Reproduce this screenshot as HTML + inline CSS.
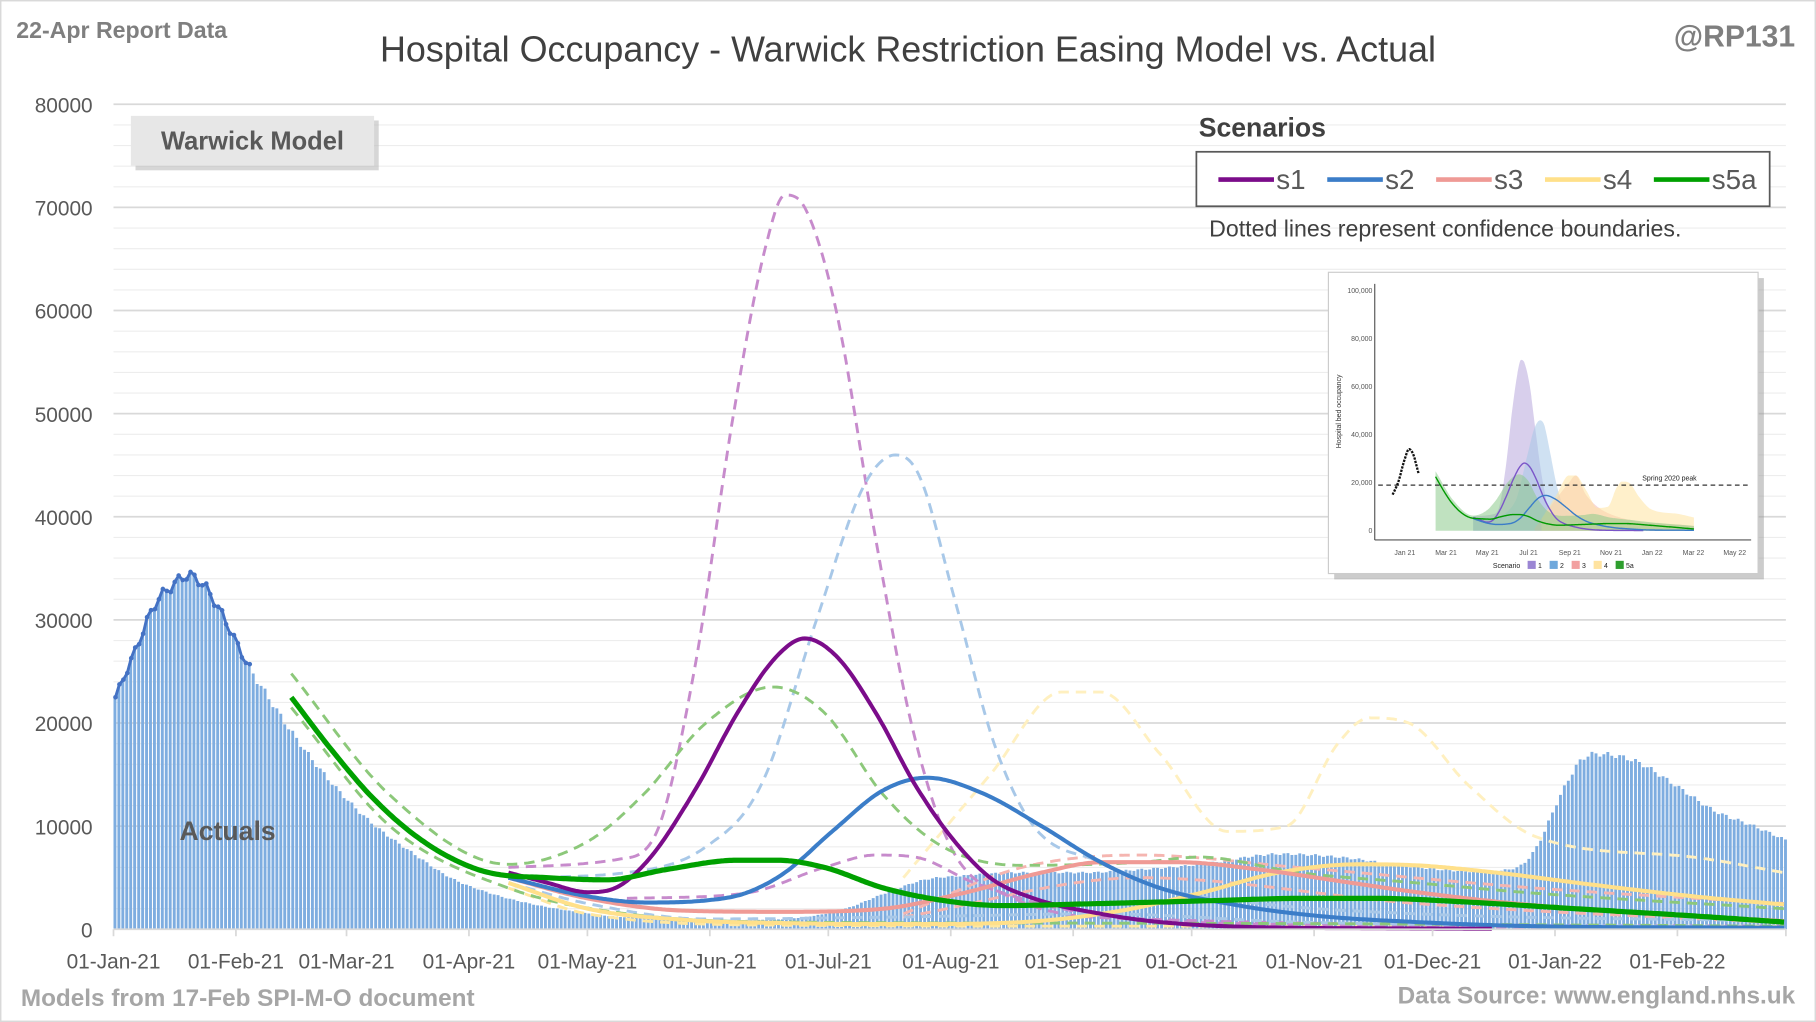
<!DOCTYPE html>
<html><head><meta charset="utf-8"><style>
html,body{margin:0;padding:0;background:#fff;}
svg{display:block;font-family:"Liberation Sans",sans-serif;}
</style></head><body>
<svg id="s" width="1816" height="1022" viewBox="0 0 1568 882" preserveAspectRatio="none" xmlns="http://www.w3.org/2000/svg">
<rect x="0.5" y="0.5" width="1567" height="881" fill="#fff" stroke="#D9D9D9" stroke-width="1.5"/>
<g id="grid"></g>
<g id="bars"></g>
<g id="lines"></g>
<g id="axis"></g>
<text x="14" y="33" font-size="20" font-weight="bold" fill="#7F7F7F">22-Apr Report Data</text>
<text x="784" y="53" font-size="31" fill="#404040" text-anchor="middle">Hospital Occupancy - Warwick Restriction Easing Model vs. Actual</text>
<text x="1550" y="40" font-size="26" font-weight="bold" fill="#7F7F7F" text-anchor="end">@RP131</text>
<text x="18" y="868" font-size="21" font-weight="bold" fill="#A6A6A6">Models from 17-Feb SPI-M-O document</text>
<text x="1550" y="866" font-size="21" font-weight="bold" fill="#A6A6A6" text-anchor="end">Data Source: www.england.nhs.uk</text>
<rect x="117" y="104" width="210" height="43" fill="#bbb" opacity="0.6"/>
<rect x="113" y="100" width="210" height="43" fill="#E7E7E7"/>
<text x="218" y="129" font-size="22" font-weight="bold" fill="#595959" text-anchor="middle">Warwick Model</text>
<text x="155" y="725" font-size="23" font-weight="bold" fill="#595959">Actuals</text>
<text x="1035" y="118" font-size="23" font-weight="bold" fill="#404040">Scenarios</text>
<rect x="1033" y="131" width="495" height="47" fill="#fff" stroke="#595959" stroke-width="1.5"/>
<g font-size="24" fill="#595959">
<line x1="1052" y1="155" x2="1100" y2="155" stroke="#7B0C8A" stroke-width="4"/><text x="1102" y="163">s1</text>
<line x1="1146" y1="155" x2="1194" y2="155" stroke="#3B7DC8" stroke-width="4"/><text x="1196" y="163">s2</text>
<line x1="1240" y1="155" x2="1288" y2="155" stroke="#EF9A95" stroke-width="4"/><text x="1290" y="163">s3</text>
<line x1="1334" y1="155" x2="1382" y2="155" stroke="#FFE08A" stroke-width="4"/><text x="1384" y="163">s4</text>
<line x1="1428" y1="155" x2="1476" y2="155" stroke="#00A000" stroke-width="4"/><text x="1478" y="163">s5a</text>
</g>
<text x="1044" y="204" font-size="20" fill="#404040">Dotted lines represent confidence boundaries.</text>
<rect x="1152" y="240" width="371" height="260" fill="#999" opacity="0.5"/>
<rect x="1147" y="235" width="371" height="260" fill="#fff" stroke="#ccc"/>
<g id="inset"></g>
</svg>
<script>
const NS="http://www.w3.org/2000/svg";
function el(p,t,a,txt){const e=document.createElementNS(NS,t);for(const k in a)e.setAttribute(k,a[k]);if(txt!==undefined)e.textContent=txt;document.getElementById(p).appendChild(e);return e;}
const X0=98,PX=3.41,Y0=802,PY=(802-90)/80000;
const X=d=>X0+d*PX, Y=v=>Y0-v*PY;
for(let v=2000;v<=80000;v+=2000){const maj=v%10000==0;el("grid","line",{x1:98,x2:1542,y1:Y(v),y2:Y(v),stroke:maj?"#D9D9D9":"#EDEDED","stroke-width":maj?1.5:1});}
for(let v=0;v<=80000;v+=10000)el("axis","text",{x:80,y:Y(v)+7,"font-size":18,fill:"#595959","text-anchor":"end"},String(v));
el("axis","line",{x1:98,x2:1542,y1:802,y2:802,stroke:"#D9D9D9","stroke-width":1.5});
const months=[0,31,59,90,120,151,181,212,243,273,304,334,365,396];
const labs=["01-Jan-21","01-Feb-21","01-Mar-21","01-Apr-21","01-May-21","01-Jun-21","01-Jul-21","01-Aug-21","01-Sep-21","01-Oct-21","01-Nov-21","01-Dec-21","01-Jan-22","01-Feb-22"];
months.forEach((d,i)=>{el("axis","line",{x1:X(d),x2:X(d),y1:802,y2:808,stroke:"#D9D9D9","stroke-width":1.5});el("axis","text",{x:X(d),y:836,"font-size":18,fill:"#595959","text-anchor":"middle"},labs[i]);});
el("axis","line",{x1:1542,x2:1542,y1:802,y2:808,stroke:"#D9D9D9","stroke-width":1.5});
function mk(pts){const n=pts.length,x=pts.map(p=>p[0]),y=pts.map(p=>p[1]);const dl=[],m=[];
for(let i=0;i<n-1;i++)dl.push((y[i+1]-y[i])/(x[i+1]-x[i]));
m[0]=dl[0];m[n-1]=dl[n-2];for(let i=1;i<n-1;i++){m[i]=(dl[i-1]*dl[i]<=0)?0:(dl[i-1]+dl[i])/2;}
for(let i=0;i<n-1;i++){if(dl[i]==0){m[i]=0;m[i+1]=0;continue;}const a=m[i]/dl[i],b=m[i+1]/dl[i],s=a*a+b*b;if(s>9){const t=3/Math.sqrt(s);m[i]=t*a*dl[i];m[i+1]=t*b*dl[i];}}
return d=>{if(d<=x[0])return y[0];if(d>=x[n-1])return y[n-1];let i=0;while(d>x[i+1])i++;const h=x[i+1]-x[i],t=(d-x[i])/h,t2=t*t,t3=t2*t;
return (2*t3-3*t2+1)*y[i]+(t3-2*t2+t)*h*m[i]+(-2*t3+3*t2)*y[i+1]+(t3-t2)*h*m[i+1];};}
const act=[[0,22500],[5,27000],[10,31500],[15,33500],[18,34300],[22,33500],[27,30500],[33,26000],[38,23000],[45,19000],[52,15500],[59,12500],[66,10000],[75,7500],[85,5000],[95,3500],[105,2500],[115,1800],[125,1300],[140,1000],[160,900],[175,1200],[185,2000],[195,3500],[205,4800],[215,5200],[230,5500],[245,5500],[260,5800],[275,6300],[295,7300],[310,7000],[330,6000],[345,5600],[355,6000],[360,8000],[366,13000],[371,16300],[375,17000],[385,16300],[395,14000],[405,11500],[415,10000],[424,8500]];
const fa=mk(act);
let bp="";for(let d=0;d<424;d++){const v=fa(d)*(1+0.015*Math.sin(d*1.7));const x=X(d);bp+=`M${x.toFixed(1)} ${Y0}V${Y(v).toFixed(1)}h2.5V${Y0}z`;}
el("bars","path",{d:bp,fill:"#7EADE0"});
let dp="";for(let d=0;d<=34;d++){const v=fa(d)*(1+0.015*Math.sin(d*1.7));dp+=(d?"L":"M")+X(d+0.5).toFixed(1)+" "+Y(v).toFixed(1);el("bars","circle",{cx:X(d+0.5),cy:Y(v),r:2,fill:"#4472C4"});}
el("bars","path",{d:dp,fill:"none",stroke:"#4472C4","stroke-width":2.5});
function path(pts,fx,fy){const f=mk(pts);let s="";const a=pts[0][0],b=pts[pts.length-1][0];for(let d=a;d<=b;d+=0.5){s+=(s?"L":"M")+fx(d).toFixed(1)+" "+fy(f(d)).toFixed(1);}return s;}
const S={
s1:[[100,5500],[110,4500],[120,3600],[127,4000],[136,7000],[148,14000],[158,21000],[168,26500],[175,28200],[183,26500],[193,21000],[203,14000],[212,9000],[222,5000],[233,3000],[250,1500],[265,700],[290,200],[320,100],[349,50]],
s2:[[100,5000],[120,3200],[135,2600],[150,2800],[160,3500],[170,5500],[182,9500],[195,13500],[206,14700],[220,13200],[235,10000],[250,6500],[265,4000],[285,2300],[305,1300],[330,700],[360,300],[423,150]],
s3:[[100,5000],[120,3000],[145,1800],[170,1700],[195,2000],[215,3500],[235,5500],[250,6500],[270,6500],[290,5800],[310,4700],[330,3600],[355,2500],[390,1500],[423,800]],
s4:[[100,4500],[120,2000],[145,900],[170,600],[200,500],[230,700],[255,1800],[275,3500],[295,5500],[315,6300],[330,6200],[350,5500],[375,4300],[400,3200],[423,2400]],
s5:[[45,22500],[55,17500],[65,13000],[75,9500],[85,7000],[95,5500],[110,5000],[125,4800],[140,5800],[158,6700],[168,6700],[180,6000],[195,4000],[210,2800],[225,2300],[250,2500],[280,2800],[300,3000],[320,3000],[340,2700],[370,2000],[400,1300],[423,700]]};
const D=[
["#FFF0C0",[[200,5000],[222,15000],[240,23000],[250,23000],[265,17000],[282,9500],[297,10000],[310,18000],[318,20500],[328,20000],[343,14000],[360,9000],[400,7000],[423,5500]]],
["#FFE7A0",[[100,4000],[120,1500],[170,400],[250,300],[423,300]]],
["#F5B5B0",[[200,1500],[230,6000],[260,7200],[300,6000],[360,4000],[423,2500]]],
["#F5B5B0",[[200,1200],[260,5000],[330,2500],[423,600]]],
["#C78BCC",[[100,6000],[128,6800],[137,9000],[147,25000],[157,50000],[165,66000],[170,71200],[175,70000],[183,60000],[192,40000],[202,20000],[212,8000],[228,3000],[260,1000],[423,300]]],
["#C78BCC",[[130,3000],[160,3500],[180,6000],[193,7200],[203,7000],[218,4500],[240,2000],[280,600],[423,100]]],
["#A8C8E8",[[100,5000],[130,5500],[150,8000],[164,14000],[178,30000],[190,43000],[198,46000],[204,44000],[213,32000],[223,18000],[233,10000],[250,6500],[265,4000],[290,2500],[330,1500],[423,800]]],
["#A8C8E8",[[100,4500],[120,2500],[150,1000],[200,1200],[250,1500],[300,700],[423,200]]],
["#8CC87A",[[45,24800],[70,13000],[100,6300],[120,8500],[134,13000],[150,20000],[167,23500],[180,21000],[195,13000],[210,8000],[230,6200],[260,6500],[275,7000],[300,5500],[330,4500],[360,3500],[423,2000]]],
["#8CC87A",[[45,21500],[70,10000],[100,4000],[130,1500],[170,700],[250,600],[330,500],[423,300]]]];
D.forEach(([c,p])=>el("lines","path",{d:path(p,X,Y),fill:"none",stroke:c,"stroke-width":2.5,"stroke-dasharray":"9 6"}));
[["s4","#FFE08A"],["s3","#EF9A95"],["s2","#3B7DC8"],["s1","#7B0C8A"],["s5","#00A000"]].forEach(([k,c])=>el("lines","path",{d:path(S[k],X,Y),fill:"none",stroke:c,"stroke-width":k=="s5"?4.5:3.5}));
const IX=d=>1213+d*0.59, IY=v=>458-v*0.00207;
el("inset","line",{x1:1187,y1:245,x2:1187,y2:466,stroke:"#555"});
el("inset","line",{x1:1187,y1:466,x2:1512,y2:466,stroke:"#555"});
[0,20000,40000,60000,80000,100000].forEach(v=>el("inset","text",{x:1185,y:IY(v)+2,"font-size":6,fill:"#555","text-anchor":"end"},v?v.toLocaleString("en-US"):"0"));
["Jan 21","Mar 21","May 21","Jul 21","Sep 21","Nov 21","Jan 22","Mar 22","May 22"].forEach((t,i)=>el("inset","text",{x:1213+i*35.6,y:479,"font-size":6,fill:"#555","text-anchor":"middle"},t));
el("inset","text",{x:1158,y:355,"font-size":6,fill:"#333",transform:"rotate(-90 1158 355)","text-anchor":"middle"},"Hospital bed occupancy");
const fills=[["#B8A8DC",D[4][1]],["#A8C8E8",D[6][1]],["#F2B8B8",[[190,1000],[240,20000],[250,23000],[265,15000],[300,7000],[423,2000]]],["#FFE3A0",D[0][1]],["#8CCB8C",D[8][1]]];
fills.forEach(([c,p])=>{let s=path(p,IX,IY);s+=`L${IX(p[p.length-1][0])} ${IY(0)}L${IX(p[0][0])} ${IY(0)}z`;el("inset","path",{d:s,fill:c,opacity:0.55});});
el("inset","line",{x1:1190,y1:IY(19000),x2:1510,y2:IY(19000),stroke:"#333","stroke-dasharray":"4 3"});
el("inset","text",{x:1418,y:IY(19000)-4,"font-size":6,fill:"#222"},"Spring 2020 peak");
[["s1","#7A55C8"],["s2","#3B7DC8"],["s5","#009900"]].forEach(([k,c])=>el("inset","path",{d:path(S[k],IX,IY),fill:"none",stroke:c,"stroke-width":1.2}));
el("inset","path",{d:path([[-18,15000],[-10,20000],[0,30000],[6,34000],[12,32000],[20,24000]],IX,IY),fill:"none",stroke:"#111","stroke-width":2,"stroke-dasharray":"2 1"});
el("inset","text",{x:1289,y:490,"font-size":6,fill:"#222"},"Scenario");
[["#9B86D4","1"],["#6FA8DC","2"],["#F2A0A0","3"],["#FFE3A0","4"],["#2E9E2E","5a"]].forEach(([c,t],i)=>{el("inset","rect",{x:1319+i*19,y:484,width:7,height:7,fill:c});el("inset","text",{x:1328+i*19,y:490,"font-size":6,fill:"#222"},t);});
</script>
</body></html>
